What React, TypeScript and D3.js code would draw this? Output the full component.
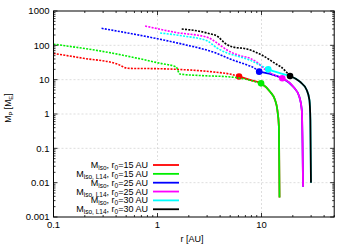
import React from 'react';
import * as d3 from 'd3';

// radius [AU] / mass [M_E]
const legendLabels = [
  { sub: 'iso', r0: '15' },
  { sub: 'iso, L14', r0: '15' },
  { sub: 'iso', r0: '25' },
  { sub: 'iso, L14', r0: '25' },
  { sub: 'iso', r0: '30' },
  { sub: 'iso, L14', r0: '30' },
];
const colors = ['#ff0000', '#00ee00', '#0000ff', '#ff00ff', '#00ffff', '#000000'];

const redDotR = [0.1, 0.194, 0.41, 0.52, 1.06, 1.53, 3.7, 4.98, 6.08];
const redDotM = [58, 42, 28.6, 21.4, 20.8, 20, 16.4, 14.6, 12.4];
const redSolR = [6.08, 7.74, 9.9, 12.1, 13.5, 14.2, 14.7, 14.8, 14.9];
const redSolM = [12.4, 9.8, 7.8, 4.46, 2.55, 1.31, 0.43, 0.046, 0.0037];

const greenDotR = [0.1, 0.31, 1.06, 1.51, 1.64, 2.56, 4.98, 6.94, 9.9];
const greenDotM = [108, 65, 30, 23.4, 14.6, 13.2, 12.0, 10.4, 7.8];
const greenSolR = [9.9, 12.1, 13.5, 14.2, 14.7, 14.8, 14.9];
const greenSolM = [7.8, 4.46, 2.55, 1.31, 0.43, 0.046, 0.0037];

const blueDotR = [0.29, 1.06, 1.77, 3.7, 4.98, 7.2, 8.5, 9.5];
const blueDotM = [313, 150, 107, 58.6, 40, 27, 22, 17.1];
const blueSolR = [9.5, 12.5, 15.85, 20.2, 23.1, 24.4, 24.8, 25.1];
const blueSolM = [17.1, 14.3, 11, 6.24, 3.19, 1.31, 0.143, 0.0076];

const magDotR = [0.76, 1.47, 3.06, 3.73, 4.66, 6.2, 7.74, 9.25, 10.8, 13.2, 15.85];
const magDotM = [366, 240, 169, 117, 73, 50, 42, 30.5, 19.8, 13.7, 11];
const magSolR = [15.85, 20.2, 23.1, 24.4, 24.8, 25.1];
const magSolM = [11, 6.24, 3.19, 1.31, 0.143, 0.0076];

const cyanDotR = [1.06, 1.77, 2.99, 3.73, 4.66, 6.2, 7.74, 9.25, 11.6];
const cyanDotM = [229, 187, 136, 84, 60, 46, 37, 28.6, 20];
const cyanSolR = [11.6, 14, 16.5, 18.8, 23.4, 27.2, 28.9, 29.5, 29.9];
const cyanSolM = [20, 16.5, 14.2, 12.8, 8.73, 5.0, 2.55, 0.67, 0.01];

const blackDotR = [1.71, 3.06, 3.82, 4.46, 5.2, 7.26, 10.1, 13.8, 15.4, 18.8];
const blackDotM = [299, 224, 178, 115, 91, 78, 52, 28.6, 23.4, 12.8];
const blackSolR = [18.8, 23.4, 27.2, 28.9, 29.5, 29.9];
const blackSolM = [12.8, 8.73, 5.0, 2.55, 0.67, 0.01];

const xMajor = [0.1, 1, 10];
const xTickLabels = ['0.1', '1', '10'];
const yMajor = [0.001, 0.01, 0.1, 1, 10, 100, 1000];
const yTickLabels = ['0.001', '0.01', '0.1', '1', '10', '100', '1000'];

const series = [
  [redDotR, redDotM, redSolR, redSolM],
  [greenDotR, greenDotM, greenSolR, greenSolM],
  [blueDotR, blueDotM, blueSolR, blueSolM],
  [magDotR, magDotM, magSolR, magSolM],
  [cyanDotR, cyanDotM, cyanSolR, cyanSolM],
  [blackDotR, blackDotM, blackSolR, blackSolM],
];

const font = '"Liberation Sans", Arial, sans-serif';

export default function App() {
  const x = d3.scaleLog().domain([0.1, 50]).range([53.5, 334.2]);
  const y = d3.scaleLog().domain([0.001, 1000]).range([217, 11]);
  const [x0, x1] = x.range();
  const [y0, y1] = y.range();

  const line = d3.line<[number, number]>()
    .x(d => x(d[0]))
    .y(d => y(d[1]))
    .curve(d3.curveMonotoneX);

  const xMinor: number[] = [];
  [0.1, 1, 10].forEach(d => { for (let k = 2; k <= 9; k++) if (d * k <= 50) xMinor.push(d * k); });
  const yMinor: number[] = [];
  yMajor.slice(0, -1).forEach(d => { for (let k = 2; k <= 9; k++) yMinor.push(d * k); });

  const zip = (a: number[], b: number[]) => a.map((v, i) => [v, b[i]] as [number, number]);

  const legY = (i: number) => 165 + i * 8.85;

  return (
    <svg width={350} height={245} style={{ position: 'absolute', left: 0, top: 0, background: '#fff' }} fontFamily={font}>
      {/* grid */}
      <g stroke="#d0d0d0" strokeWidth={0.7} strokeDasharray="2,2">
        {xMajor.slice(1).map(d => <line key={'gx' + d} x1={x(d)} x2={x(d)} y1={y1} y2={y0} />)}
        {yMajor.slice(1, -1).map(d => <line key={'gy' + d} x1={x0} x2={x1} y1={y(d)} y2={y(d)} />)}
      </g>
      {/* legend box */}
      <rect x={57} y={160} width={124} height={54} fill="#fff" />
      {/* curves */}
      {series.map((s, i) => (
        <g key={i}>
          <path d={line(zip(s[0], s[1])) ?? ''} fill="none" stroke={colors[i]} strokeWidth={1.6} strokeDasharray="2,1.3" />
          <path d={line(zip(s[2], s[3])) ?? ''} fill="none" stroke={colors[i]} strokeWidth={1.8} />
          <circle cx={x(s[2][0])} cy={y(s[3][0])} r={3.3} fill={colors[i]} />
        </g>
      ))}
      {/* legend */}
      {legendLabels.map((l, i) => (
        <g key={'leg' + i}>
          <text x={148} y={legY(i) + 3} textAnchor="end" fontSize={9} fill="#000">
            M<tspan fontSize={6.5} dy={2}>{l.sub}</tspan>
            <tspan dy={-2}>, r</tspan>
            <tspan fontSize={6.5} dy={2}>0</tspan>
            <tspan dy={-2}>={l.r0} AU</tspan>
          </text>
          <line x1={153} x2={179} y1={legY(i)} y2={legY(i)} stroke={colors[i]} strokeWidth={1.8} />
        </g>
      ))}
      {/* frame and ticks */}
      <rect x={x0} y={y1} width={x1 - x0} height={y0 - y1} fill="none" stroke="#000" strokeWidth={1} />
      <g stroke="#000" strokeWidth={0.8}>
        {xMajor.map(d => (
          <g key={'xt' + d}>
            <line x1={x(d)} x2={x(d)} y1={y0} y2={y0 - 4} />
            <line x1={x(d)} x2={x(d)} y1={y1} y2={y1 + 4} />
          </g>
        ))}
        {xMinor.map(d => (
          <g key={'xm' + d}>
            <line x1={x(d)} x2={x(d)} y1={y0} y2={y0 - 2} />
            <line x1={x(d)} x2={x(d)} y1={y1} y2={y1 + 2} />
          </g>
        ))}
        {yMajor.map(d => (
          <g key={'yt' + d}>
            <line x1={x0} x2={x0 + 4} y1={y(d)} y2={y(d)} />
            <line x1={x1} x2={x1 - 4} y1={y(d)} y2={y(d)} />
          </g>
        ))}
        {yMinor.map(d => (
          <g key={'ym' + d}>
            <line x1={x0} x2={x0 + 2} y1={y(d)} y2={y(d)} />
            <line x1={x1} x2={x1 - 2} y1={y(d)} y2={y(d)} />
          </g>
        ))}
      </g>
      {/* tick labels */}
      {xMajor.map((d, i) => (
        <text key={'xl' + d} x={x(d)} y={228} textAnchor="middle" fontSize={9.5}>{xTickLabels[i]}</text>
      ))}
      {yMajor.map((d, i) => (
        <text key={'yl' + d} x={49.5} y={y(d) + 3.4} textAnchor="end" fontSize={9.5}>{yTickLabels[i]}</text>
      ))}
      {/* axis titles */}
      <text x={192} y={242} textAnchor="middle" fontSize={9}>r [AU]</text>
      <text transform="translate(11,108) rotate(-90)" textAnchor="middle" fontSize={8.5}>
        M<tspan fontSize={6} dy={2}>P</tspan>
        <tspan dy={-2}> [M</tspan>
        <tspan fontSize={6} dy={2}>E</tspan>
        <tspan dy={-2}>]</tspan>
      </text>
    </svg>
  );
}
